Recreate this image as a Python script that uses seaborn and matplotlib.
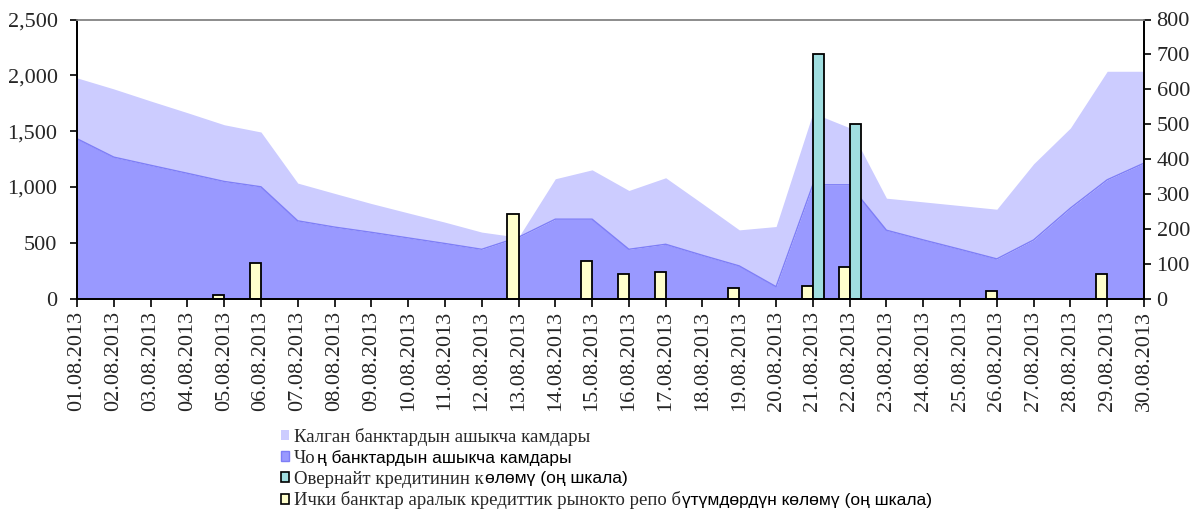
import numpy as np
import pandas as pd
import matplotlib
matplotlib.use("Agg")
import matplotlib.pyplot as plt
import seaborn as sns
from matplotlib.patches import Patch
from matplotlib.ticker import FuncFormatter, MultipleLocator
from matplotlib.transforms import IdentityTransform

nan = np.nan

dates = ["01.08.2013", "02.08.2013", "03.08.2013", "04.08.2013", "05.08.2013",
         "06.08.2013", "07.08.2013", "08.08.2013", "09.08.2013", "10.08.2013",
         "11.08.2013", "12.08.2013", "13.08.2013", "14.08.2013", "15.08.2013",
         "16.08.2013", "17.08.2013", "18.08.2013", "19.08.2013", "20.08.2013",
         "21.08.2013", "22.08.2013", "23.08.2013", "24.08.2013", "25.08.2013",
         "26.08.2013", "27.08.2013", "28.08.2013", "29.08.2013", "30.08.2013"]

# Left axis (stacked areas)
large_banks = [1432, 1267, 1194, 1122, 1049, 1001, 696, 640, 593, 543,
               493, 441, 549, 711, 711, 441, 486, 387, 292, 106,
               1019, 1019, 612, 525, 441, 355, 525, 810, 1064, 1213]
other_banks = [545, 611, 576, 543, 508, 491, 338, 302, 258, 224,
               191, 154, 0, 362, 442, 527, 596, 463, 323, 539,
               643, 511, 287, 341, 392, 445, 682, 718, 972, 823]

# Right axis (bars)
repo_volume = [nan, nan, nan, nan, 10, 103, nan, nan, nan, nan,
               nan, nan, 243, nan, 108, 70, 75, nan, 31, nan,
               37, 91, nan, nan, nan, 22, nan, nan, 70, nan]
overnight_volume = [nan, nan, nan, nan, nan, nan, nan, nan, nan, nan,
                    nan, nan, nan, nan, nan, nan, nan, nan, nan, nan,
                    700, 500, nan, nan, nan, nan, nan, nan, nan, nan]

label_other = "Калган банктардын ашыкча камдары"
label_large = "Чоң банктардын ашыкча камдары"
label_overnight = "Овернайт кредитинин көлөмү (оң шкала)"
label_repo = "Ички банктар аралык кредиттик рынокто репо бүтүмдөрдүн көлөмү (оң шкала)"
# (serif part, sans-serif part) as rendered in the source legend
legend_parts = [
    ("Калган банктардын ашыкча камдары", ""),
    ("Чо", "ң банктардын ашыкча камдары"),
    ("Овернайт кредитинин к", "өлөмү (оң шкала)"),
    ("Ички банктар аралык кредиттик рынокто репо б", "үтүмдөрдүн көлөмү (оң шкала)"),
]

c_light = "#CCCCFF"
c_dark = "#9999FF"
c_dark_line = "#7E7EF6"
c_teal = "#A0DEE0"
c_yellow = "#FFFFCC"

sns.set_theme(style="white")
plt.rcParams["font.family"] = ["Liberation Serif", "DejaVu Serif"]

fig = plt.figure(figsize=(11.98, 5.12), dpi=100)
ax1 = fig.add_axes([77 / 1198, 1 - 298.5 / 512, (1144 - 77) / 1198, (298.5 - 19.5) / 512])
ax2 = ax1.twinx()

x = np.arange(len(dates))
large = np.array(large_banks, dtype=float)
total = large + np.array(other_banks, dtype=float)

ax1.fill_between(x, 0, large, color=c_dark, linewidth=0, zorder=1)
ax1.fill_between(x, large, total, color=c_light, linewidth=0, zorder=1)
sns.lineplot(x=x, y=large, ax=ax1, color=c_dark_line, linewidth=1.0, zorder=2)

bars = pd.DataFrame({
    "date": dates * 2,
    "series": [label_repo] * len(dates) + [label_overnight] * len(dates),
    "value": repo_volume + overnight_volume,
}).dropna()

sns.barplot(data=bars, x="date", y="value", hue="series", order=dates,
            hue_order=[label_repo, label_overnight], palette=[c_yellow, c_teal],
            width=0.6, edgecolor="black", linewidth=1.3, errorbar=None,
            saturation=1, legend=False, ax=ax2)

ax1.set_xlim(0, len(dates) - 1)
ax1.set_ylim(0, 2500)
ax2.set_ylim(0, 800)

ax1.yaxis.set_major_locator(MultipleLocator(500))
ax1.yaxis.set_major_formatter(FuncFormatter(lambda v, p: f"{int(v):,}"))
ax2.yaxis.set_major_locator(MultipleLocator(100))
ax2.yaxis.set_major_formatter(FuncFormatter(lambda v, p: f"{int(v)}"))

ax1.set_xticks(x)
ax1.set_xticklabels(dates, rotation=90, fontsize=16)
for a in (ax1, ax2):
    a.set_xlabel("")
    a.set_ylabel("")

ax1.tick_params(axis="y", which="major", direction="out", length=5, width=1.2,
                color="black", labelsize=16, pad=9, left=True)
ax1.tick_params(axis="x", which="major", direction="out", length=6, width=1.2,
                color="black", labelsize=16, pad=3, bottom=True)
ax2.tick_params(axis="y", which="major", direction="out", length=5, width=1.2,
                color="black", labelsize=16, pad=4, right=True)

for ax in (ax1, ax2):
    ax.grid(False)
    for side in ("left", "right", "bottom"):
        ax.spines[side].set_color("black")
        ax.spines[side].set_linewidth(1.3)
        ax.spines[side].set_visible(True)
    ax.spines["top"].set_color("#8C8C8C")
    ax.spines["top"].set_linewidth(1.2)
ax1.set_facecolor("white")

handles = [
    Patch(facecolor=c_light, edgecolor="none"),
    Patch(facecolor=c_dark, edgecolor=c_dark_line, linewidth=1),
    Patch(facecolor=c_teal, edgecolor="black", linewidth=1.2),
    Patch(facecolor=c_yellow, edgecolor="black", linewidth=1.2),
]
leg_fs = 13.5
leg = fig.legend(handles=handles, labels=[p[0] for p in legend_parts],
                 loc="upper left", bbox_to_anchor=(281 / 1198, 1 - 428 / 512),
                 frameon=False, prop={"family": "Liberation Serif", "size": leg_fs},
                 handlelength=0.45, handleheight=0.45, handletextpad=0.25,
                 labelspacing=0.2, borderpad=0, borderaxespad=0)

fig.canvas.draw()
renderer = fig.canvas.get_renderer()
for txt, (serif_part, sans_part) in zip(leg.get_texts(), legend_parts):
    if not sans_part:
        continue
    bb = txt.get_window_extent(renderer)
    base_x, base_y = txt.get_transform().transform((0, 0))
    fig.text(bb.x1 + 1, base_y, sans_part, transform=IdentityTransform(),
             ha="left", va="baseline", fontsize=12.5,
             family=["Liberation Sans", "DejaVu Sans"], color="black")

fig.savefig("out.png", dpi=100, facecolor="white")
